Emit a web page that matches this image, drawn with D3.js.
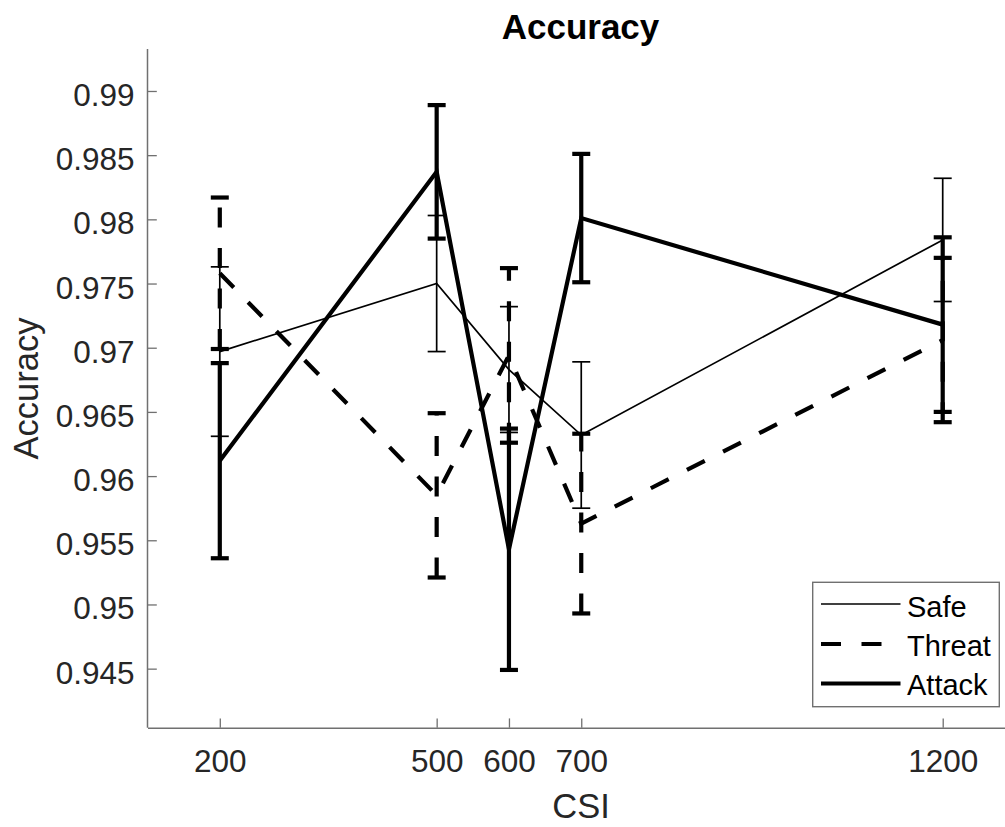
<!DOCTYPE html>
<html>
<head>
<meta charset="utf-8">
<script src="https://cdn.jsdelivr.net/npm/d3@7"></script>
<style>
  body { margin: 0; background: #fff; }
  svg { display: block; font-family: "Liberation Sans", Arial, Helvetica, sans-serif; }
</style>
</head>
<body>
<svg id="chart"></svg>
<script>
// values
const csi = [200, 500, 600, 700, 1200];
const seriesNames = ["Safe", "Threat", "Attack"];
const safeMean = [0.9697, 0.9750, 0.9683, 0.9632, 0.9784];
const safeErr = [0.0066, 0.0053, 0.0049, 0.0057, 0.0048];
const threatMean = [0.9758, 0.9585, 0.9694, 0.9563, 0.9706];
const threatErr = [0.0059, 0.0064, 0.0068, 0.0070, 0.0064];
const attackMean = [0.9612, 0.9837, 0.9543, 0.9801, 0.9718];
const attackErr = [0.0076, 0.0052, 0.0094, 0.0050, 0.0068];
const xTicks = [200, 500, 600, 700, 1200];
const yTicks = [0.945, 0.95, 0.955, 0.96, 0.965, 0.97, 0.975, 0.98, 0.985, 0.99];
const yTickLabels = ["0.945", "0.95", "0.955", "0.96", "0.965", "0.97", "0.975", "0.98", "0.985", "0.99"];

const width = 1005;
const height = 827;
const plotLeft = 147.5, plotRight = 1015, plotTop = 49, plotBottom = 727.7;
const axisColor = "#707070";
const textColor = "#262626";

const svg = d3.select("#chart").attr("width", width).attr("height", height);

const x = d3.scaleLinear().domain([100, 1300]).range([plotLeft, plotRight]);
const y = d3.scaleLinear().domain([0.9404, 0.99327]).range([plotBottom, plotTop]);

// styles per series, MATLAB-ish
const styles = {
  Safe: {width: 1.7, dash: null},
  Threat: {width: 4.2, dash: "20,20.5"},
  Attack: {width: 4.2, dash: null}
};

const series = [
  {name: "Safe", mean: safeMean, err: safeErr},
  {name: "Threat", mean: threatMean, err: threatErr},
  {name: "Attack", mean: attackMean, err: attackErr}
];

// axes
const yAxis = d3.axisLeft(y)
  .tickValues(yTicks)
  .tickFormat((d, i) => yTickLabels[i])
  .tickSizeInner(-9.3)
  .tickSizeOuter(0)
  .tickPadding(13);

const xAxis = d3.axisBottom(x)
  .tickValues(xTicks)
  .tickFormat(d3.format("d"))
  .tickSizeInner(-9.3)
  .tickSizeOuter(0)
  .tickPadding(22);

const gy = svg.append("g").attr("transform", "translate(" + plotLeft + ",0)").call(yAxis);
const gx = svg.append("g").attr("transform", "translate(0," + plotBottom + ")").call(xAxis);

[gx, gy].forEach(g => {
  g.select(".domain").attr("stroke", axisColor).attr("stroke-width", 1.5);
  g.selectAll(".tick line").attr("stroke", axisColor).attr("stroke-width", 1.3);
  g.selectAll(".tick text")
    .attr("fill", textColor)
    .style("font-size", "31.5px")
    .style("font-family", "'Liberation Sans', Arial, sans-serif");
});
gy.selectAll(".tick text").attr("dy", "0.46em");
gx.selectAll(".tick text").attr("dy", "0.71em");

// make the y domain line stop at the top of the axes
gy.select(".domain").attr("d", "M0," + plotTop + "V" + plotBottom);

// lines and error bars
const plot = svg.append("g");
const line = d3.line().x(d => x(d.csi)).y(d => y(d.mean));
const capHalf = 9;

series.forEach(s => {
  const st = styles[s.name];
  const pts = csi.map((c, i) => ({csi: c, mean: s.mean[i], err: s.err[i]}));
  const g = plot.append("g").attr("class", "series-" + s.name);

  g.append("path")
    .datum(pts)
    .attr("d", line)
    .attr("fill", "none")
    .attr("stroke", "#000")
    .attr("stroke-width", st.width)
    .attr("stroke-dasharray", st.dash);

  const bars = g.selectAll(".bar").data(pts).enter().append("g").attr("class", "bar");

  bars.append("line")
    .attr("x1", d => x(d.csi)).attr("x2", d => x(d.csi))
    .attr("y1", d => y(d.mean - d.err)).attr("y2", d => y(d.mean + d.err))
    .attr("stroke", "#000")
    .attr("stroke-width", st.width)
    .attr("stroke-dasharray", st.dash);

  // caps
  [-1, 1].forEach(sign => {
    bars.append("line")
      .attr("x1", d => x(d.csi) - capHalf).attr("x2", d => x(d.csi) + capHalf)
      .attr("y1", d => y(d.mean + sign * d.err)).attr("y2", d => y(d.mean + sign * d.err))
      .attr("stroke", "#000")
      .attr("stroke-width", st.width);
  });
});

// title and labels
svg.append("text")
  .attr("x", 580.5).attr("y", 39)
  .attr("text-anchor", "middle")
  .style("font-size", "35px")
  .style("font-weight", "bold")
  .attr("fill", "#000")
  .text("Accuracy");

svg.append("text")
  .attr("x", 581).attr("y", 818)
  .attr("text-anchor", "middle")
  .style("font-size", "34.5px")
  .attr("fill", textColor)
  .text("CSI");

svg.append("text")
  .attr("transform", "translate(38,388.5) rotate(-90)")
  .attr("text-anchor", "middle")
  .style("font-size", "34.5px")
  .attr("fill", textColor)
  .text("Accuracy");

// legend
const legend = svg.append("g");
legend.append("rect")
  .attr("x", 812.7).attr("y", 582.3)
  .attr("width", 186.6).attr("height", 124.4)
  .attr("fill", "#fff")
  .attr("stroke", axisColor)
  .attr("stroke-width", 1.4);

const rowY = [604, 644, 683.5];
const textY = [617, 656, 695];
seriesNames.forEach((name, i) => {
  const st = styles[name];
  legend.append("line")
    .attr("x1", 821).attr("x2", 900.5)
    .attr("y1", rowY[i]).attr("y2", rowY[i])
    .attr("stroke", "#000")
    .attr("stroke-width", st.width)
    .attr("stroke-dasharray", st.dash);
  legend.append("text")
    .attr("x", 907).attr("y", textY[i])
    .style("font-size", "29px")
    .attr("fill", "#000")
    .text(name);
});
</script>
</body>
</html>
